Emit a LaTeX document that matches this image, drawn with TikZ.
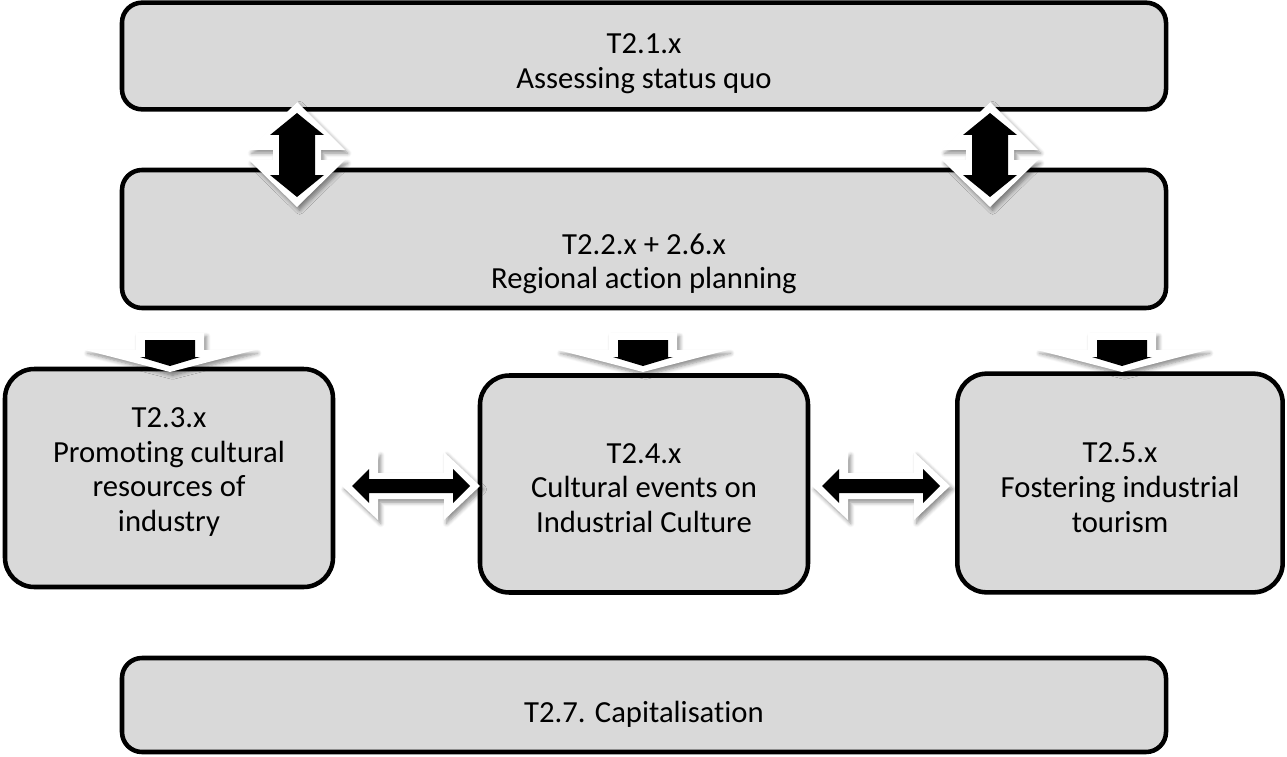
\documentclass[tikz,border=0pt]{standalone}
\usepackage{fontspec}
\setmainfont{Carlito}[Ligatures=NoCommon]
\usetikzlibrary{shadows.blur, calc}
\definecolor{BoxGray}{HTML}{D9D9D9}

\tikzset{
  taskbox/.style={draw=black, line width=3.4pt, fill=BoxGray, rounded corners=15pt, inner sep=0pt},
  subtask/.style={taskbox, rounded corners=22pt, minimum width=246pt, minimum height=163.5pt},
  tasktext/.style={align=center, inner sep=0pt, font=\fontsize{23}{26}\selectfont},
  halo/.style={fill=white, blur shadow={shadow blur steps=6, shadow xshift=2pt, shadow yshift=-2.5pt,
    shadow blur radius=3pt, shadow opacity=45}},
  pics/downarrow/.style={code={
    \path[halo] (-34,-20) -- (34,-20) -- (34,-3) -- (85,-3) -- (0,19) -- (-85,-3) -- (-34,-3) -- cycle;
    \fill[black] (-25,-13) -- (25,-13) -- (25,4) -- (30,4) -- (0,13) -- (-30,4) -- (-25,4) -- cycle;
  }},
  pics/vbiarrow/.style={code={
    \path[halo] (0,-53) -- (48,-5) -- (24,-5) -- (24,5) -- (48,5) -- (0,52) -- (-48,5) -- (-24,5) -- (-24,-5) -- (-48,-5) -- cycle;
    \fill[black] (0,-42) -- (27,-20) -- (18,-20) -- (18,20) -- (27,20) -- (0,42) -- (-27,20) -- (-18,20) -- (-18,-20) -- (-27,-20) -- cycle;
  }},
  pics/hbiarrow/.style={code={
    \path[halo] (-69,0) -- (-33,-34) -- (-33,-13) -- (33,-13) -- (33,-34) -- (69,0) -- (33,34) -- (33,13) -- (-33,13) -- (-33,34) -- cycle;
    \fill[black] (-59,0) -- (-42,-17) -- (-42,-7) -- (42,-7) -- (42,-17) -- (59,0) -- (42,17) -- (42,7) -- (-42,7) -- (-42,17) -- cycle;
  }}
}

\begin{document}
\begin{tikzpicture}[x=0.75pt, y=-0.75pt]
  \useasboundingbox (0,0) rectangle (1287,756);

  % Work package rows
  \node[taskbox, minimum width=783pt, minimum height=80pt,
    label={[tasktext, yshift=-6pt]center:{T2.1.x\\Assessing status quo}}] (t21) at (644,56) {};
  \node[taskbox, minimum width=783pt, minimum height=103.5pt,
    label={[tasktext, yshift=-18.5pt]center:{T2.2.x + 2.6.x\\Regional action planning}}] (t22) at (644,239) {};
  \node[taskbox, minimum width=783pt, minimum height=70.5pt,
    label={[tasktext, yshift=-7pt]center:{T2.7. Capitalisation}}] (t27) at (644,705) {};

  % Parallel tasks
  \node[subtask, label={[tasktext, yshift=4.5pt]center:{T2.3.x\\Promoting cultural\\resources of\\industry}}] (t23) at (169,478) {};
  \node[subtask, minimum height=162.75pt,
    label={[tasktext, yshift=-3pt]center:{T2.4.x\\Cultural events on\\Industrial Culture}}] (t24) at (644,484) {};
  \node[subtask, minimum width=244pt, minimum height=164pt,
    label={[tasktext, yshift=-3.5pt]center:{T2.5.x\\Fostering industrial\\tourism}}] (t25) at (1120,483) {};

  % Block arrows
  \foreach \x in {297, 990}
    \pic at (\x,155) {vbiarrow};
  \foreach \x in {170, 643, 1122}
    \pic at (\x,353) {downarrow};
  \foreach \x in {411, 881}
    \pic at (\x,486) {hbiarrow};
\end{tikzpicture}
\end{document}
